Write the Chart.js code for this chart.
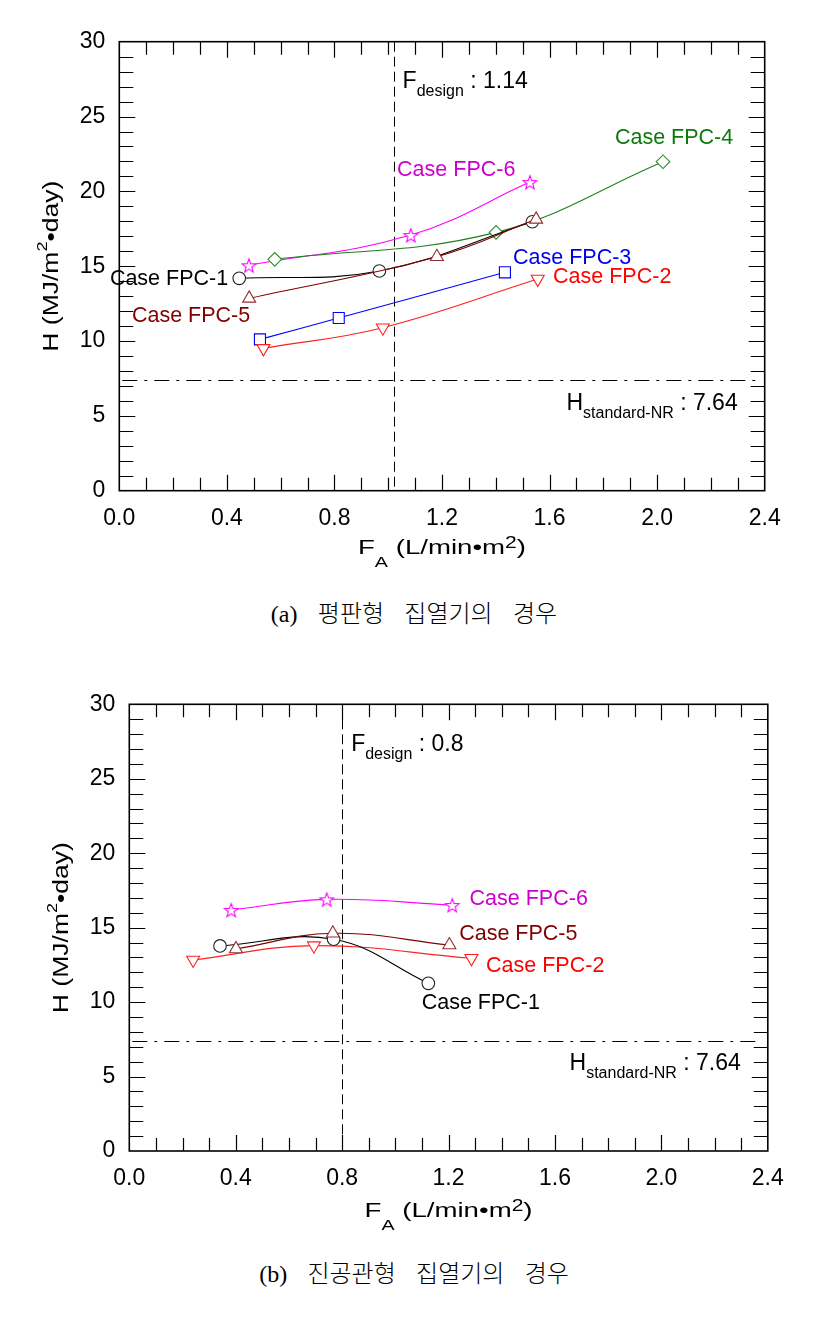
<!DOCTYPE html>
<html><head><meta charset="utf-8">
<script src="https://cdn.jsdelivr.net/npm/chart.js@4.4.0/dist/chart.umd.min.js"></script>
<style>
html,body{margin:0;padding:0;background:#fff;}
body{width:821px;height:1319px;position:relative;overflow:hidden;}
canvas{position:absolute;left:0;}
#c1{top:0;} #c2{top:650px;}
.cap{position:absolute;left:0;width:828px;text-align:center;font-family:"Noto Sans CJK KR","Liberation Serif",serif;font-size:24px;line-height:30px;word-spacing:15px;color:#000;font-weight:300;}
.cap span{font-family:"Liberation Serif","DejaVu Serif",serif;font-weight:400;}
</style></head>
<body>
<canvas id="c1" width="821" height="580"></canvas>
<canvas id="c2" width="821" height="600"></canvas>
<div class="cap" style="top:597px"><span>(a)</span> 평판형 집열기의 경우</div>
<div class="cap" style="top:1257px"><span>(b)</span> 진공관형 집열기의 경우</div>
<script>
// ---------- data ----------
const caseNames = ['Case FPC-1','Case FPC-2','Case FPC-3','Case FPC-4','Case FPC-5','Case FPC-6'];
const xTickValues = [0,0.4,0.8,1.2,1.6,2.0,2.4];
const xTickLabels = ['0.0','0.4','0.8','1.2','1.6','2.0','2.4'];
const yTickValues = [0,5,10,15,20,25,30];
const yTickLabels = ['0','5','10','15','20','25','30'];

// (a) flat-plate collector
const flatFPC1_F = [0.446, 0.967, 1.536]; const flatFPC1_H = [14.19, 14.68, 17.97];
const flatFPC2_F = [0.536, 0.980, 1.556]; const flatFPC2_H = [9.51, 10.89, 14.14];
const flatFPC3_F = [0.523, 0.816, 1.434]; const flatFPC3_H = [10.11, 11.54, 14.59];
const flatFPC4_F = [0.578, 1.401, 2.022]; const flatFPC4_H = [15.46, 17.26, 21.98];
const flatFPC5_F = [0.483, 1.181, 1.550]; const flatFPC5_H = [12.85, 15.63, 18.13];
const flatFPC6_F = [0.482, 1.084, 1.527]; const flatFPC6_H = [15.06, 17.08, 20.62];
const flatDesignF = 1.02; const flatDesignLabel = '1.14';

// (b) evacuated-tube collector
const tubeFPC1_F = [0.341, 0.768, 1.124]; const tubeFPC1_H = [13.77, 14.22, 11.26];
const tubeFPC2_F = [0.240, 0.694, 1.286]; const tubeFPC2_H = [12.83, 13.79, 12.94];
const tubeFPC5_F = [0.401, 0.765, 1.203]; const tubeFPC5_H = [13.57, 14.62, 13.83];
const tubeFPC6_F = [0.383, 0.742, 1.214]; const tubeFPC6_H = [16.19, 16.90, 16.52];
const tubeDesignF = 0.80; const tubeDesignLabel = '0.8';

const hStandard = 7.4; const hStandardLabel = '7.64';

// ---------- styles ----------
const FONT = '"Liberation Sans", Arial, sans-serif';
function makeStar(color){
  const s = 18, c = document.createElement('canvas'); c.width = s; c.height = s;
  const g = c.getContext('2d'); g.translate(s/2, s/2 + 0.8);
  g.beginPath();
  for (let i = 0; i < 10; i++) { const r = i % 2 ? 3.0 : 7.2; const a = -Math.PI/2 + i*Math.PI/5; g.lineTo(r*Math.cos(a), r*Math.sin(a)); }
  g.closePath(); g.fillStyle = '#fff'; g.fill(); g.strokeStyle = color; g.lineWidth = 1.1; g.stroke();
  return c;
}
const ST = {
  1: {line:'#000000', mark:'#222222', text:'#000000', point:'circle', r:6.3, rot:0, order:2},
  2: {line:'#ff2020', mark:'#ff2020', text:'#ff0000', point:'triangle', r:7.5, rot:180, order:4},
  3: {line:'#0000ff', mark:'#0000ff', text:'#0000ee', point:'rect', r:7.8, rot:0, order:5},
  4: {line:'#1f7f1f', mark:'#2a8a2a', text:'#0a7a0a', point:'rectRot', r:6.8, rot:0, order:3},
  5: {line:'#800000', mark:'#903030', text:'#800000', point:'triangle', r:7.5, rot:0, order:1},
  6: {line:'#ff00ff', mark:'#ff00ff', text:'#cc00cc', point:null, r:8, rot:0, order:6}
};
const starImg = makeStar('#ff00ff');

function mkDataset(n, xs, ys){
  const st = ST[n];
  return {
    label: caseNames[n-1],
    data: xs.map((x, i) => ({x: x, y: ys[i]})),
    showLine: true, tension: 0.4, fill: false,
    borderColor: st.line, borderWidth: 1.1,
    pointStyle: st.point || starImg, pointRadius: st.r, pointHoverRadius: st.r,
    pointRotation: st.rot, pointBorderColor: st.mark, pointBackgroundColor: '#fff',
    pointBorderWidth: 1.1, order: st.order
  };
}

function drawRich(ctx, parts, x, y, align, target){
  let w = 0;
  const ws = parts.map(p => { ctx.font = p.size + 'px ' + FONT; const m = ctx.measureText(p.t).width; w += m; return m; });
  const sx = target ? target / w : 1;
  const x0 = align === 'center' ? x - w*sx/2 : (align === 'right' ? x - w*sx : x);
  ctx.save(); ctx.translate(x0, y); ctx.scale(sx, 1);
  ctx.textAlign = 'left'; ctx.textBaseline = 'alphabetic'; ctx.fillStyle = '#000';
  let cx = 0;
  parts.forEach((p, i) => { ctx.font = p.size + 'px ' + FONT; ctx.fillText(p.t, cx, p.dy || 0); cx += ws[i]; });
  ctx.restore();
}

const framePlugin = {
  id: 'frame',
  beforeDatasetsDraw(chart, args, o){
    const {ctx, chartArea: a, scales: {x, y}} = chart;
    ctx.save(); ctx.strokeStyle = '#000'; ctx.lineWidth = 1;
    ctx.setLineDash([10, 5]);
    const px = Math.round(x.getPixelForValue(o.designF)) + 0.5;
    ctx.beginPath(); ctx.moveTo(px, a.top); ctx.lineTo(px, a.bottom); ctx.stroke();
    ctx.setLineDash([15, 7, 3, 7]);
    const py = Math.round(y.getPixelForValue(hStandard)) + 0.5;
    ctx.beginPath(); ctx.moveTo(a.left + 3, py); ctx.lineTo(a.right - 6, py); ctx.stroke();
    ctx.restore();
  },
  afterDatasetsDraw(chart, args, o){
    const {ctx, chartArea: a, scales: {x, y}} = chart;
    ctx.save();
    // inward tick marks on all sides
    ctx.strokeStyle = '#000'; ctx.lineWidth = 1.2; ctx.beginPath();
    for (let i = 1; i < 24; i++) {
      const p = Math.round(x.getPixelForValue(i/10)) + 0.5, L = (i % 4 === 0) ? 16 : 13;
      ctx.moveTo(p, a.bottom); ctx.lineTo(p, a.bottom - L);
      ctx.moveTo(p, a.top); ctx.lineTo(p, a.top + L);
    }
    for (let j = 1; j < 30; j++) {
      const p = Math.round(y.getPixelForValue(j)) + 0.5, L = (j % 5 === 0) ? 16 : 14;
      ctx.moveTo(a.left, p); ctx.lineTo(a.left + L, p);
      ctx.moveTo(a.right, p); ctx.lineTo(a.right - L, p);
    }
    ctx.stroke();
    // frame
    ctx.lineWidth = 1.6;
    ctx.strokeRect(a.left, a.top, a.right - a.left, a.bottom - a.top);
    // case labels
    ctx.font = '21.5px ' + FONT; ctx.textAlign = 'left'; ctx.textBaseline = 'middle';
    o.labels.forEach(l => { ctx.fillStyle = ST[l.n].text; ctx.fillText(caseNames[l.n-1], x.getPixelForValue(l.x), y.getPixelForValue(l.y)); });
    // design flow label
    const dpx = x.getPixelForValue(o.designF);
    drawRich(ctx, [{t:'F', size:23}, {t:'design', size:16, dy:8}, {t:' : ' + o.designLabel, size:23}], dpx + 9, a.top + 46.6, 'left');
    // H standard label
    drawRich(ctx, [{t:'H', size:23}, {t:'standard-NR', size:16, dy:8}, {t:' : ' + hStandardLabel, size:23}], a.right - 27, y.getPixelForValue(5.42), 'right');
    // x title
    drawRich(ctx, [{t:'F', size:21}, {t:'A', size:15, dy:13}, {t:' (L/min\u2022m', size:21}, {t:'2', size:16, dy:-6}, {t:')', size:21}],
      (a.left + a.right)/2, a.bottom + o.xTitleGap, 'center', 168);
    // y title
    ctx.save(); ctx.translate(a.left - 61.8, (a.top + a.bottom)/2); ctx.rotate(-Math.PI/2);
    drawRich(ctx, [{t:'H (MJ/m', size:22}, {t:'2', size:15, dy:-11}, {t:'\u2022day)', size:22}], 0, 0, 'center', 171);
    ctx.restore();
    ctx.restore();
  }
};

function buildChart(id, datasets, cfg){
  return new Chart(document.getElementById(id), {
    type: 'line',
    data: {datasets: datasets},
    options: {
      responsive: false, animation: false, devicePixelRatio: 1,
      layout: {padding: cfg.padding},
      plugins: {legend: {display: false}, tooltip: {enabled: false}, frame: cfg.frame},
      scales: {
        x: {type: 'linear', min: 0, max: 2.4,
            afterBuildTicks: s => { s.ticks = xTickValues.map(v => ({value: v})); },
            afterFit: s => { s.height = 80; },
            ticks: {callback: (v, i) => xTickLabels[i], font: {family: FONT, size: 23}, color: '#000', padding: 14, maxRotation: 0, autoSkip: false},
            grid: {display: false, drawTicks: false}, border: {display: false}},
        y: {type: 'linear', min: 0, max: 30,
            afterBuildTicks: s => { s.ticks = yTickValues.map(v => ({value: v})); },
            afterFit: s => { s.width = cfg.yWidth; },
            ticks: {callback: (v, i) => yTickLabels[i], font: {family: FONT, size: 23}, color: '#000', padding: 14, autoSkip: false},
            grid: {display: false, drawTicks: false}, border: {display: false}}
      }
    },
    plugins: [framePlugin]
  });
}

buildChart('c1', [
  mkDataset(1, flatFPC1_F, flatFPC1_H),
  mkDataset(2, flatFPC2_F, flatFPC2_H),
  mkDataset(3, flatFPC3_F, flatFPC3_H),
  mkDataset(4, flatFPC4_F, flatFPC4_H),
  mkDataset(5, flatFPC5_F, flatFPC5_H),
  mkDataset(6, flatFPC6_F, flatFPC6_H)
], {
  padding: {left: 0, top: 41.7, right: 56.3, bottom: 9.3},
  yWidth: 119.3,
  frame: {designF: flatDesignF, designLabel: flatDesignLabel, xTitleGap: 63.6,
    labels: [
      {n:1, x:-0.035, y:14.14}, {n:5, x:0.047, y:11.67}, {n:6, x:1.033, y:21.42},
      {n:4, x:1.843, y:23.56}, {n:3, x:1.464, y:15.54}, {n:2, x:1.613, y:14.28}
    ]}
});

buildChart('c2', [
  mkDataset(1, tubeFPC1_F, tubeFPC1_H),
  mkDataset(2, tubeFPC2_F, tubeFPC2_H),
  mkDataset(5, tubeFPC5_F, tubeFPC5_H),
  mkDataset(6, tubeFPC6_F, tubeFPC6_H)
], {
  padding: {left: 0, top: 54.3, right: 53.2, bottom: 19},
  yWidth: 129.3,
  frame: {designF: tubeDesignF, designLabel: tubeDesignLabel, xTitleGap: 66,
    labels: [
      {n:6, x:1.279, y:16.9}, {n:5, x:1.240, y:14.57}, {n:2, x:1.341, y:12.42}, {n:1, x:1.099, y:9.96}
    ]}
});
</script>
</body></html>
